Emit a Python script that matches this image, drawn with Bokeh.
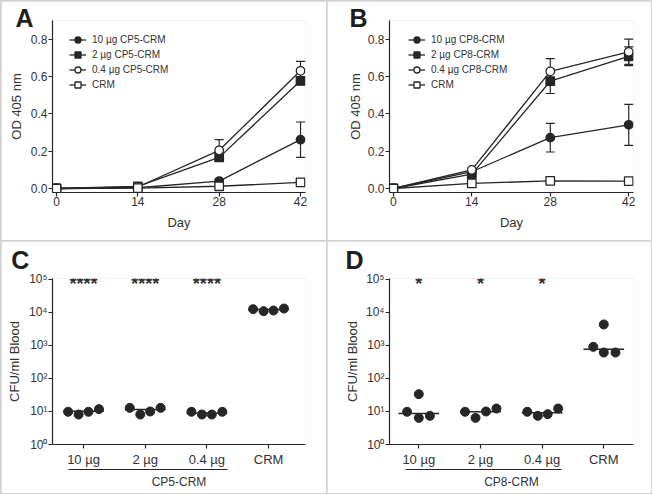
from bokeh.plotting import figure
from bokeh.models import (Range1d, FixedTicker, Legend, LegendItem, Whisker, Title, Label,
                          TeeHead, ColumnDataSource, GridBox, NumeralTickFormatter, LinearAxis)
from bokeh.embed import file_html
from bokeh.resources import INLINE

FONT = "Liberation Sans"
INK = "#262626"
TXT = "#333333"

# ---------------- data: panels A / B (OD 405 nm vs day) ----------------
days = [0, 14, 28, 42]
od_ticks = [0.0, 0.2, 0.4, 0.6, 0.8]

a_labels = ["10 µg CP5-CRM", "2 µg CP5-CRM", "0.4 µg CP5-CRM", "CRM"]
a_10 = [0.0, 0.004, 0.040, 0.262]
a_2 = [0.0, 0.011, 0.167, 0.578]
a_04 = [0.0, 0.008, 0.205, 0.632]
a_crm = [0.0, 0.002, 0.012, 0.033]
a_10_sem = [0.001, 0.002, 0.008, 0.095]
a_2_sem = [0.001, 0.003, 0.022, 0.020]
a_04_sem = [0.001, 0.003, 0.057, 0.050]
a_crm_sem = [0.001, 0.001, 0.003, 0.005]

b_labels = ["10 µg CP8-CRM", "2 µg CP8-CRM", "0.4 µg CP8-CRM", "CRM"]
b_10 = [0.0, 0.090, 0.273, 0.342]
b_2 = [0.0, 0.077, 0.576, 0.710]
b_04 = [0.0, 0.100, 0.629, 0.734]
b_crm = [0.0, 0.027, 0.041, 0.040]
b_10_sem = [0.002, 0.010, 0.077, 0.110]
b_2_sem = [0.002, 0.010, 0.066, 0.050]
b_04_sem = [0.002, 0.010, 0.068, 0.068]
b_crm_sem = [0.001, 0.004, 0.004, 0.004]

# ---------------- data: panels C / D (CFU/ml blood) ----------------
groups = ["10 µg", "2 µg", "0.4 µg", "CRM"]
log_ticks = [1, 10, 100, 1000, 10000, 100000]
log_tick_labels = ["10⁰", "10¹", "10²", "10³", "10⁴", "10⁵"]

c_10 = [9.8, 8.1, 9.8, 11.8]
c_2 = [12.9, 8.1, 10.0, 12.9]
c_04 = [9.8, 8.1, 8.1, 9.8]
c_crm = [12600, 11000, 11500, 13200]
c_medians = [10.2, 11.5, 8.9, 12300]
c_stars = ["****", "****", "****", ""]

d_10 = [9.8, 33.5, 6.4, 7.4]
d_2 = [9.8, 6.4, 10.0, 12.3]
d_04 = [9.8, 7.4, 8.3, 12.3]
d_crm = [912, 4340, 613, 613]
d_medians = [8.7, 9.9, 9.1, 776]
d_stars = ["*", "*", "*", ""]

# horizontal jitter of dots inside each group (layout)
c_jitter = [[-0.25, -0.08, 0.08, 0.25]] * 4
d_jitter = [[-0.19, 0.0, 0.0, 0.18], [-0.25, -0.08, 0.09, 0.26],
            [-0.24, -0.07, 0.09, 0.26], [-0.17, 0.0, 0.0, 0.19]]


def style_axis(ax, size="12px"):
    ax.axis_line_color = INK
    ax.axis_line_width = 1.2
    ax.major_tick_line_color = INK
    ax.major_tick_line_width = 1.2
    ax.major_tick_out = 4
    ax.major_tick_in = 0
    ax.minor_tick_line_color = None
    ax.major_label_text_font = FONT
    ax.major_label_text_font_size = size
    ax.major_label_text_color = TXT
    ax.axis_label_text_font = FONT
    ax.axis_label_text_font_size = "13px"
    ax.axis_label_text_font_style = "normal"
    ax.axis_label_text_color = TXT


def letter_title(p, letter, offset, standoff, valign):
    p.add_layout(Title(text=letter, align="left", offset=offset, standoff=standoff,
                       vertical_align=valign, text_font=FONT, text_font_size="25px",
                       text_font_style="bold", text_color="#1e1e1e"), "above")


def timecourse(letter, labels, means, sems, w, left, right, xr, leg_x, ylab_standoff,
               letter_offset):
    p = figure(width=w, height=239, x_range=Range1d(*xr), y_range=Range1d(-0.0215, 0.902),
               min_border_left=left, min_border_right=right, min_border_top=19,
               min_border_bottom=48, output_backend="svg", toolbar_location=None)
    p.outline_line_color = None
    p.grid.visible = False

    xa = p.xaxis[0]
    xa.ticker = FixedTicker(ticks=days)
    style_axis(xa)
    xa.major_label_standoff = 0
    xa.axis_label = "Day"
    xa.axis_label_standoff = 6
    ya = p.yaxis[0]
    ya.ticker = FixedTicker(ticks=od_ticks)
    ya.formatter = NumeralTickFormatter(format="0.0")
    style_axis(ya)
    ya.major_label_standoff = 1
    ya.axis_label = "OD 405 nm"
    ya.axis_label_standoff = ylab_standoff

    markers = ["circle", "square", "circle", "square"]
    fills = [INK, INK, "white", "white"]
    items = []
    renders = []
    for lab, m, s, mk, fc in zip(labels, means, sems, markers, fills):
        src = ColumnDataSource(dict(x=days, y=m,
                                    lo=[a - b for a, b in zip(m, s)],
                                    hi=[a + b for a, b in zip(m, s)]))
        p.add_layout(Whisker(source=src, base="x", upper="hi", lower="lo",
                             line_color=INK, line_width=1.2, level="underlay",
                             upper_head=TeeHead(size=9, line_color=INK, line_width=1.2),
                             lower_head=TeeHead(size=9, line_color=INK, line_width=1.2)))
        lr = p.line("x", "y", source=src, line_color=INK, line_width=1.3)
        renders.append((lab, lr, src, mk, fc))
    for lab, lr, src, mk, fc in renders:
        sr = p.scatter("x", "y", source=src, marker=mk, size=8.5, fill_color=fc,
                       line_color=INK, line_width=1.3)
        items.append(LegendItem(label=lab, renderers=[lr, sr]))

    leg = Legend(items=items, location=(leg_x, 100), padding=0, margin=0, spacing=0,
                 glyph_height=15, glyph_width=17, label_height=15, label_standoff=6,
                 label_text_font=FONT, label_text_font_size="10px",
                 label_text_color=TXT, border_line_color=None,
                 background_fill_alpha=0)
    p.add_layout(leg, "center")
    letter_title(p, letter, letter_offset, -22.6, "bottom")
    return p


def scatterpanel(letter, vals, jitter, meds, stars, group, w, left, right, xr,
                 span, ylab_standoff, letter_offset):
    p = figure(width=w, height=252, x_range=Range1d(*xr), y_range=Range1d(1, 10 ** 5.0303),
               y_axis_type="log", min_border_left=left, min_border_right=right,
               min_border_top=37, min_border_bottom=49, output_backend="svg",
               toolbar_location=None)
    p.outline_line_color = None
    p.grid.visible = False

    xa = p.xaxis[0]
    xa.ticker = FixedTicker(ticks=[0, 1, 2, 3])
    xa.major_label_overrides = {i: g for i, g in enumerate(groups)}
    style_axis(xa, "13px")
    xa.major_label_standoff = 3
    ya = p.yaxis[0]
    ya.ticker = FixedTicker(ticks=log_ticks)
    ya.major_label_overrides = {t: s for t, s in zip(log_ticks, log_tick_labels)}
    style_axis(ya, "12px")
    ya.major_label_standoff = 1
    ya.axis_label = "CFU/ml Blood"
    ya.axis_label_standoff = ylab_standoff

    # group bracket: an extra axis without ticks, spanning the three doses
    ga = LinearAxis(ticker=FixedTicker(ticks=[]), bounds=span, axis_label=group)
    style_axis(ga)
    ga.major_tick_out = 0
    ga.axis_label_standoff = 5
    ga.axis_label_text_font_size = "12px"
    p.add_layout(ga, "below")

    xs, ys = [], []
    for i, (v, j) in enumerate(zip(vals, jitter)):
        xs += [i + o for o in j]
        ys += v
    p.segment(x0=[i - 0.33 for i in range(4)], x1=[i + 0.33 for i in range(4)],
              y0=meds, y1=meds, line_color=INK, line_width=1.5)
    p.scatter(xs, ys, size=9, fill_color=INK, line_color=INK, marker="circle")

    for i, s in enumerate(stars):
        if s:
            p.add_layout(Label(x=i, y=10 ** 4.86, text=s, text_align="center",
                               text_baseline="alphabetic", text_font=FONT,
                               text_font_size="18px", text_font_style="bold",
                               text_color=TXT))
    letter_title(p, letter, letter_offset, 6, "top")
    return p


pA = timecourse("A", a_labels, [a_10, a_2, a_04, a_crm],
                [a_10_sem, a_2_sem, a_04_sem, a_crm_sem],
                325, 49, 21, (-0.683, 42.855), 17, 4, -37)
pB = timecourse("B", b_labels, [b_10, b_2, b_04, b_crm],
                [b_10_sem, b_2_sem, b_04_sem, b_crm_sem],
                324, 58, 10, (-0.68, 42.85), 19, 2, -40.1)
pC = scatterpanel("C", [c_10, c_2, c_04, c_crm], c_jitter, c_medians, c_stars,
                  "CP5-CRM", 325, 51, 21, (-0.503, 3.599), (-0.243, 2.335), 4, -41.3)
pD = scatterpanel("D", [d_10, d_2, d_04, d_crm], d_jitter, d_medians, d_stars,
                  "CP8-CRM", 324, 62, 18, (-0.475, 3.482), (-0.22, 2.32), 3, -44.1)

grid = GridBox(children=[(pA, 0, 0), (pB, 0, 1), (pC, 1, 0), (pD, 1, 1)], spacing=1,
               styles={"background-color": "#d2d2d2", "border": "1px solid #d2d2d2"})

open("out.html", "w").write(file_html(grid, INLINE))
